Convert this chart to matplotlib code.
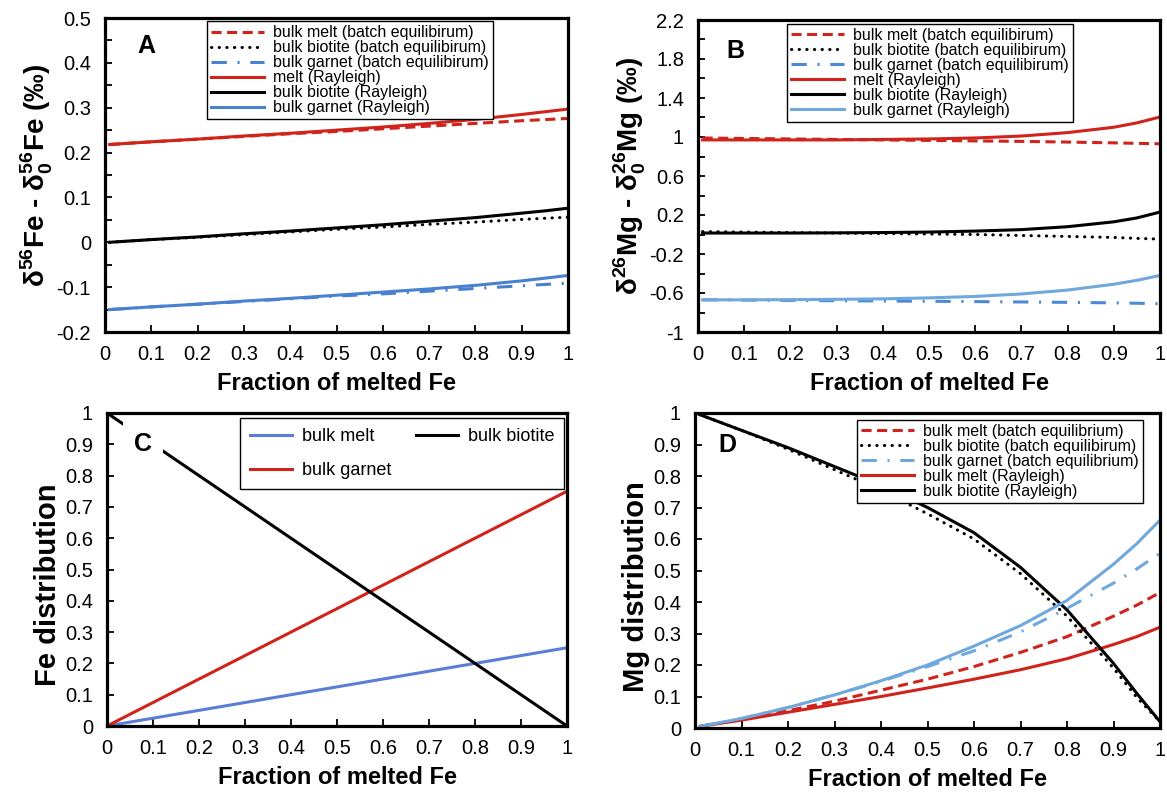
import matplotlib
matplotlib.use('Agg')
import matplotlib.pyplot as plt
from matplotlib.ticker import MultipleLocator, FixedLocator, FuncFormatter

plt.rcParams['font.family'] = ['Liberation Sans', 'DejaVu Sans']
plt.rcParams['mathtext.fontset'] = 'custom'
plt.rcParams['mathtext.rm'] = 'Liberation Sans'
plt.rcParams['mathtext.bf'] = 'Liberation Sans:bold'
plt.rcParams['axes.unicode_minus'] = False

# ---------------- data ----------------
F = [0.01, 0.1, 0.2, 0.3, 0.4, 0.5, 0.6, 0.7, 0.8, 0.9, 0.95, 1.0]

# Panel A: delta56Fe - delta0 56Fe
A_melt_batch    = [0.218, 0.224, 0.230, 0.236, 0.242, 0.247, 0.253, 0.259, 0.265, 0.271, 0.2735, 0.276]
A_biot_batch    = [0.000, 0.006, 0.011, 0.017, 0.023, 0.029, 0.034, 0.040, 0.045, 0.051, 0.0535, 0.056]
A_garn_batch    = [-0.150, -0.144, -0.138, -0.132, -0.126, -0.120, -0.115, -0.109, -0.103, -0.097, -0.094, -0.091]
A_melt_rayl     = [0.218, 0.224, 0.230, 0.237, 0.243, 0.250, 0.257, 0.265, 0.274, 0.285, 0.291, 0.297]
A_biot_rayl     = [0.000, 0.006, 0.012, 0.019, 0.025, 0.032, 0.039, 0.047, 0.055, 0.065, 0.070, 0.076]
A_garn_rayl     = [-0.150, -0.144, -0.138, -0.131, -0.125, -0.118, -0.111, -0.104, -0.096, -0.086, -0.080, -0.074]

# Panel B: delta26Mg - delta0 26Mg
B_melt_batch    = [0.99, 0.985, 0.98, 0.975, 0.97, 0.965, 0.96, 0.955, 0.948, 0.94, 0.935, 0.93]
B_biot_batch    = [0.03, 0.025, 0.02, 0.015, 0.01, 0.005, 0.0, -0.01, -0.02, -0.03, -0.04, -0.047]
B_garn_batch    = [-0.67, -0.673, -0.676, -0.679, -0.682, -0.685, -0.688, -0.692, -0.696, -0.701, -0.705, -0.71]
B_melt_rayl     = [0.97, 0.97, 0.97, 0.97, 0.975, 0.98, 0.99, 1.01, 1.045, 1.10, 1.145, 1.205]
B_biot_rayl     = [0.015, 0.015, 0.015, 0.017, 0.02, 0.025, 0.035, 0.05, 0.08, 0.13, 0.17, 0.23]
B_garn_rayl     = [-0.67, -0.67, -0.668, -0.665, -0.66, -0.65, -0.635, -0.61, -0.57, -0.51, -0.47, -0.42]
B_major = [-1, -0.6, -0.2, 0.2, 0.6, 1, 1.4, 1.8, 2.2]
B_minor = [-0.8, -0.4, 0, 0.4, 0.8, 1.2, 1.6, 2.0]

# Panel C: Fe distribution
C_F        = [0.0, 1.0]
C_melt     = [0.0, 0.25]
C_garnet   = [0.0, 0.75]
C_biotite  = [1.0, 0.0]

# Panel D: Mg distribution
D_melt_batch  = [0.005, 0.028, 0.055, 0.085, 0.12, 0.155, 0.195, 0.24, 0.29, 0.355, 0.39, 0.43]
D_biot_batch  = [0.995, 0.945, 0.885, 0.82, 0.755, 0.68, 0.60, 0.49, 0.355, 0.19, 0.097, 0.02]
D_garn_batch  = [0.005, 0.03, 0.065, 0.105, 0.148, 0.195, 0.245, 0.305, 0.38, 0.46, 0.505, 0.555]
D_melt_rayl   = [0.005, 0.025, 0.05, 0.075, 0.10, 0.127, 0.155, 0.185, 0.22, 0.265, 0.29, 0.32]
D_biot_rayl   = [0.995, 0.945, 0.89, 0.83, 0.77, 0.70, 0.62, 0.51, 0.375, 0.205, 0.11, 0.02]
D_garn_rayl   = [0.005, 0.03, 0.065, 0.105, 0.15, 0.20, 0.26, 0.325, 0.405, 0.52, 0.585, 0.66]

x_ticks = [0, 0.1, 0.2, 0.3, 0.4, 0.5, 0.6, 0.7, 0.8, 0.9, 1]

# ---------------- styles ----------------
RED = '#d0231b'
BLK = '#000000'
BLUE_A = '#4a80d0'
BLUE_C = '#5a7ed6'
LBLUE = '#6fa8dc'
BLUE_DD = '#4d8ad6'
LW = 2.2
DASH = (0, (3.3, 1.8))
DOT = (0, (0.1, 2.4))
DASHDOT = (0, (5, 3.5, 0.7, 3.5))
TICK_FS = 14.5
XLAB_FS = 17
YLAB_FS = 20


def fmt(v, pos):
    s = ('%.2f' % v).rstrip('0').rstrip('.')
    if s == '-0':
        s = '0'
    return s


def style_axes(ax, ymin, ymax, ymajor, yminor):
    ax.set_xlim(0, 1)
    ax.set_ylim(ymin, ymax)
    ax.set_xticks(x_ticks)
    ax.xaxis.set_major_formatter(FuncFormatter(fmt))
    if isinstance(ymajor, list):
        ax.yaxis.set_major_locator(FixedLocator(ymajor))
    else:
        ax.yaxis.set_major_locator(MultipleLocator(ymajor))
    if yminor is not None:
        if isinstance(yminor, list):
            ax.yaxis.set_minor_locator(FixedLocator(yminor))
        else:
            ax.yaxis.set_minor_locator(MultipleLocator(yminor))
    ax.yaxis.set_major_formatter(FuncFormatter(fmt))
    for sp in ax.spines.values():
        sp.set_linewidth(2.3)
    ax.tick_params(axis='both', which='both', direction='in', top=False, right=False,
                   labelsize=TICK_FS, width=1.3)
    ax.tick_params(axis='x', which='major', length=5, pad=9)
    ax.tick_params(axis='y', which='major', length=5, pad=10)
    ax.tick_params(axis='both', which='minor', length=5)
    ax.set_xlabel('Fraction of melted Fe', fontsize=XLAB_FS, fontweight='bold', labelpad=6)


def dot_line(ax, x, y, color, label=None):
    ln, = ax.plot(x, y, color=color, lw=LW, linestyle=DOT, dash_capstyle='round', label=label)
    return ln


def make_legend(ax, handles, anchor, fs=11.5, spacing=0.0, hl=3.3):
    leg = ax.legend(handles=handles, loc='upper left', bbox_to_anchor=anchor,
                    fontsize=fs, frameon=True, fancybox=False, edgecolor='black', framealpha=1,
                    handlelength=hl, handletextpad=0.6, labelspacing=spacing, borderpad=0.25,
                    borderaxespad=0)
    leg.get_frame().set_linewidth(1.0)
    return leg


W, H = 1167, 793
fig = plt.figure(figsize=(W / 100, H / 100), dpi=100)


def px_axes(l, t, r, b):
    return fig.add_axes([l / W, 1 - b / H, (r - l) / W, (b - t) / H])


axA = px_axes(105, 18, 568, 332)
axB = px_axes(698, 20, 1160, 332)
axC = px_axes(107, 413, 567, 726)
axD = px_axes(695, 413, 1160, 728)

# ---- Panel A ----
ax = axA
l1, = ax.plot(F, A_melt_batch, color=RED, lw=LW, linestyle=DASH, label='bulk melt (batch equilibirum)')
l2 = dot_line(ax, F, A_biot_batch, BLK, 'bulk biotite (batch equilibirum)')
l3, = ax.plot(F, A_garn_batch, color=BLUE_A, lw=LW, linestyle=DASHDOT, label='bulk garnet (batch equilibirum)')
l4, = ax.plot(F, A_melt_rayl, color=RED, lw=LW, label='melt (Rayleigh)')
l5, = ax.plot(F, A_biot_rayl, color=BLK, lw=LW, label='bulk biotite (Rayleigh)')
l6, = ax.plot(F, A_garn_rayl, color=BLUE_A, lw=LW, label='bulk garnet (Rayleigh)')
style_axes(ax, -0.2, 0.5, 0.1, 0.05)
ax.set_ylabel(r'δ$^{\mathbf{56}}$Fe - δ$_{\mathbf{0}}^{\mathbf{56}}$Fe (‰)', fontsize=YLAB_FS,
              fontweight='bold', labelpad=1)
make_legend(ax, [l1, l2, l3, l4, l5, l6], (0.22, 0.99))
ax.text(0.09, 0.91, 'A', transform=ax.transAxes, fontsize=18, fontweight='bold', ha='center', va='center')

# ---- Panel B ----
ax = axB
m1, = ax.plot(F, B_melt_batch, color=RED, lw=LW, linestyle=DASH, label='bulk melt (batch equilibirum)')
m2 = dot_line(ax, F, B_biot_batch, BLK, 'bulk biotite (batch equilibirum)')
m3, = ax.plot(F, B_garn_batch, color=BLUE_DD, lw=LW, linestyle=DASHDOT, label='bulk garnet (batch equilibirum)')
m4, = ax.plot(F, B_melt_rayl, color=RED, lw=LW, label='melt (Rayleigh)')
m5, = ax.plot(F, B_biot_rayl, color=BLK, lw=LW, label='bulk biotite (Rayleigh)')
m6, = ax.plot(F, B_garn_rayl, color=LBLUE, lw=LW, label='bulk garnet (Rayleigh)')
style_axes(ax, -1, 2.2, B_major, B_minor)
ax.set_ylabel(r'δ$^{\mathbf{26}}$Mg - δ$_{\mathbf{0}}^{\mathbf{26}}$Mg (‰)', fontsize=YLAB_FS,
              fontweight='bold', labelpad=1)
make_legend(ax, [m1, m2, m3, m4, m5, m6], (0.193, 0.987))
ax.text(0.08, 0.90, 'B', transform=ax.transAxes, fontsize=18, fontweight='bold', ha='center', va='center')

# ---- Panel C ----
ax = axC
c1, = ax.plot(C_F, C_melt, color=BLUE_C, lw=LW, label='bulk melt')
c2, = ax.plot(C_F, C_garnet, color=RED, lw=LW, label='bulk garnet')
c3, = ax.plot(C_F, C_biotite, color=BLK, lw=LW, label='bulk biotite')
style_axes(ax, 0, 1, 0.1, None)
ax.set_ylabel('Fe distribution', fontsize=21, fontweight='bold', labelpad=2)
ax.yaxis.label.set_y(0.45)
leg = ax.legend(handles=[c1, c2, c3], loc='upper left', bbox_to_anchor=(0.29, 0.984), ncol=2,
                fontsize=13, frameon=True, fancybox=False, edgecolor='black', framealpha=1,
                handlelength=2.3, handletextpad=0.55, labelspacing=0.95, columnspacing=1.4,
                borderpad=0.55, borderaxespad=0)
leg.get_frame().set_linewidth(1.0)
ax.text(0.078, 0.90, 'C', transform=ax.transAxes, fontsize=18, fontweight='bold', ha='center',
        va='center', zorder=5, bbox=dict(boxstyle='square,pad=0.45', fc='white', ec='none'))

# ---- Panel D ----
ax = axD
d1, = ax.plot(F, D_melt_batch, color=RED, lw=LW, linestyle=DASH, label='bulk melt (batch equilibrium)')
d2 = dot_line(ax, F, D_biot_batch, BLK, 'bulk biotite (batch equilibirum)')
d3, = ax.plot(F, D_garn_batch, color=LBLUE, lw=LW, linestyle=DASHDOT, label='bulk garnet (batch equilibrium)')
d4, = ax.plot(F, D_melt_rayl, color=RED, lw=LW, label='bulk melt (Rayleigh)')
d5, = ax.plot(F, D_biot_rayl, color=BLK, lw=LW, label='bulk biotite (Rayleigh)')
d6, = ax.plot(F, D_garn_rayl, color=LBLUE, lw=LW)
style_axes(ax, 0, 1, 0.1, None)
ax.set_ylabel('Mg distribution', fontsize=21, fontweight='bold', labelpad=2)
ax.yaxis.label.set_y(0.45)
make_legend(ax, [d1, d2, d3, d4, d5], (0.348, 0.978))
ax.text(0.069, 0.90, 'D', transform=ax.transAxes, fontsize=18, fontweight='bold', ha='center', va='center')

fig.savefig('out.png', dpi=100)
